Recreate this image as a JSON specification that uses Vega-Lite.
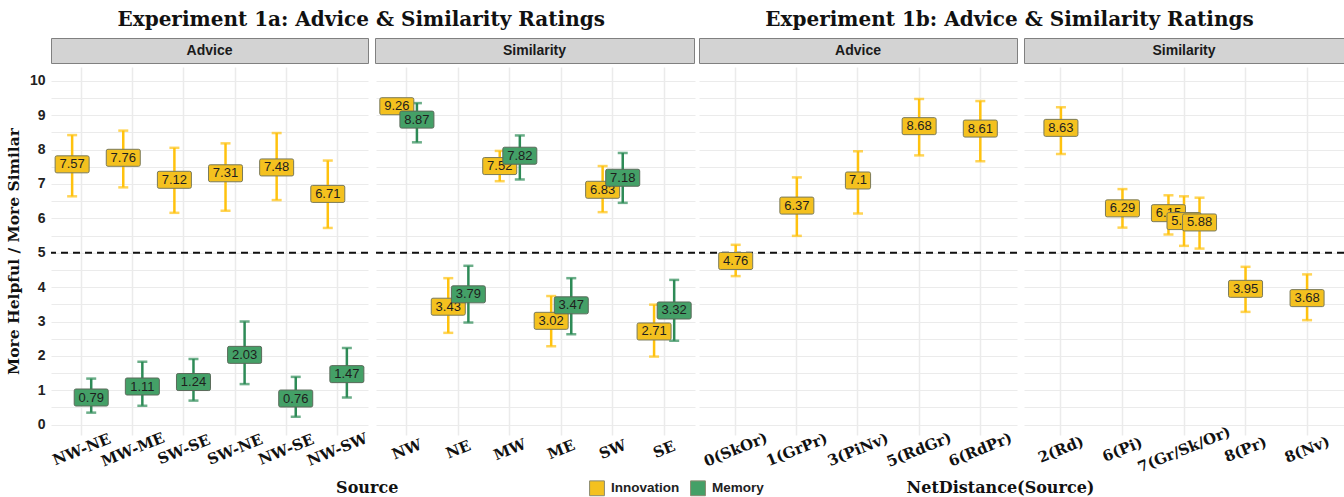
{
  "$schema": "https://vega.github.io/schema/vega-lite/v6.json",
  "padding": {"left": 6, "top": 9, "right": 0, "bottom": 0},
  "background": "white",
  "datasets": {
    "p1": [
      {"source": "NW-NE", "group": "Innovation", "mean": 7.57, "lo": 6.64, "hi": 8.42},
      {"source": "MW-ME", "group": "Innovation", "mean": 7.76, "lo": 6.90, "hi": 8.55},
      {"source": "SW-SE", "group": "Innovation", "mean": 7.12, "lo": 6.16, "hi": 8.05},
      {"source": "SW-NE", "group": "Innovation", "mean": 7.31, "lo": 6.22, "hi": 8.18},
      {"source": "NW-SE", "group": "Innovation", "mean": 7.48, "lo": 6.53, "hi": 8.48},
      {"source": "NW-SW", "group": "Innovation", "mean": 6.71, "lo": 5.72, "hi": 7.68},
      {"source": "NW-NE", "group": "Memory", "mean": 0.79, "lo": 0.35, "hi": 1.34},
      {"source": "MW-ME", "group": "Memory", "mean": 1.11, "lo": 0.55, "hi": 1.83},
      {"source": "SW-SE", "group": "Memory", "mean": 1.24, "lo": 0.70, "hi": 1.91},
      {"source": "SW-NE", "group": "Memory", "mean": 2.03, "lo": 1.18, "hi": 3.00},
      {"source": "NW-SE", "group": "Memory", "mean": 0.76, "lo": 0.23, "hi": 1.39},
      {"source": "NW-SW", "group": "Memory", "mean": 1.47, "lo": 0.79, "hi": 2.23}
    ],
    "p2": [
      {"source": "NW", "group": "Innovation", "mean": 9.26, "lo": 9.07, "hi": 9.47},
      {"source": "NE", "group": "Innovation", "mean": 3.43, "lo": 2.67, "hi": 4.26},
      {"source": "MW", "group": "Innovation", "mean": 7.52, "lo": 7.08, "hi": 7.96},
      {"source": "ME", "group": "Innovation", "mean": 3.02, "lo": 2.28, "hi": 3.74},
      {"source": "SW", "group": "Innovation", "mean": 6.83, "lo": 6.18, "hi": 7.52},
      {"source": "SE", "group": "Innovation", "mean": 2.71, "lo": 1.98, "hi": 3.49},
      {"source": "NW", "group": "Memory", "mean": 8.87, "lo": 8.21, "hi": 9.35},
      {"source": "NE", "group": "Memory", "mean": 3.79, "lo": 2.97, "hi": 4.62},
      {"source": "MW", "group": "Memory", "mean": 7.82, "lo": 7.13, "hi": 8.41},
      {"source": "ME", "group": "Memory", "mean": 3.47, "lo": 2.63, "hi": 4.26},
      {"source": "SW", "group": "Memory", "mean": 7.18, "lo": 6.45, "hi": 7.90},
      {"source": "SE", "group": "Memory", "mean": 3.32, "lo": 2.44, "hi": 4.21}
    ],
    "p3": [
      {"source": "0(SkOr)", "group": "Innovation", "mean": 4.76, "lo": 4.32, "hi": 5.23},
      {"source": "1(GrPr)", "group": "Innovation", "mean": 6.37, "lo": 5.49, "hi": 7.19},
      {"source": "3(PiNv)", "group": "Innovation", "mean": 7.1, "lo": 6.14, "hi": 7.95},
      {"source": "5(RdGr)", "group": "Innovation", "mean": 8.68, "lo": 7.83, "hi": 9.47},
      {"source": "6(RdPr)", "group": "Innovation", "mean": 8.61, "lo": 7.66, "hi": 9.41}
    ],
    "p4": [
      {"source": "2(Rd)", "group": "Innovation", "slot": "b", "mean": 8.63, "lo": 7.87, "hi": 9.23},
      {"source": "6(Pi)", "group": "Innovation", "slot": "b", "mean": 6.29, "lo": 5.73, "hi": 6.85},
      {"source": "7(Gr/Sk/Or)", "group": "Innovation", "slot": "a", "mean": 6.15, "lo": 5.53, "hi": 6.67},
      {"source": "7(Gr/Sk/Or)", "group": "Innovation", "slot": "b", "mean": 5.92, "lo": 5.20, "hi": 6.64},
      {"source": "7(Gr/Sk/Or)", "group": "Innovation", "slot": "c", "mean": 5.88, "lo": 5.12, "hi": 6.60},
      {"source": "8(Pr)", "group": "Innovation", "slot": "b", "mean": 3.95, "lo": 3.28, "hi": 4.59},
      {"source": "8(Nv)", "group": "Innovation", "slot": "b", "mean": 3.68, "lo": 3.04, "hi": 4.37}
    ]
  },
  "hconcat": [
    {
      "title": {"text": "Experiment 1a: Advice & Similarity Ratings", "anchor": "middle", "offset": 8, "dx": 10},
      "spacing": 3,
      "resolve": {"scale": {"x": "independent", "xOffset": "independent", "y": "independent"}},
      "vconcat": [
        {
          "spacing": 5,
          "hconcat": [
            {"width": 317, "height": 25, "view": {"fill": "#d3d3d3", "stroke": "#808080"}, "data": {"values": [{"label": "Advice"}]}, "mark": {"type": "text", "font": "Liberation Sans", "fontWeight": "bold", "fontSize": 14, "color": "#1a1a1a"}, "encoding": {"text": {"field": "label"}}},
            {"width": 319, "height": 25, "view": {"fill": "#d3d3d3", "stroke": "#808080"}, "data": {"values": [{"label": "Similarity"}]}, "mark": {"type": "text", "font": "Liberation Sans", "fontWeight": "bold", "fontSize": 14, "color": "#1a1a1a"}, "encoding": {"text": {"field": "label"}}}
          ]
        },
        {
          "title": {"text": "Source", "orient": "bottom", "anchor": "middle", "offset": 11, "fontSize": 16, "dx": 16},
          "spacing": 5,
          "resolve": {"scale": {"x": "independent", "xOffset": "independent", "y": "independent"}},
          "hconcat": [
            {
              "width": 317, "height": 368,
              "data": {"name": "p1"},
              "layer": [
                {"data": {"values": [{}]}, "mark": {"type": "rule", "strokeDash": [7, 5], "strokeWidth": 2, "color": "#111"},
                 "encoding": {"y": {"datum": 5, "type": "quantitative", "scale": {"domain": [-0.3, 10.4], "nice": false, "zero": false}, "axis": {"title": "More Helpful / More Similar", "grid": true, "values": [0,0.5,1,1.5,2,2.5,3,3.5,4,4.5,5,5.5,6,6.5,7,7.5,8,8.5,9,9.5,10], "labelExpr": "datum.value % 1 === 0 ? format(datum.value, 'd') : ''", "labelFont": "Liberation Sans", "labelFontWeight": "bold", "labelFontSize": 14, "labelPadding": 6, "labelColor": "#222", "titleFont": "DejaVu Serif", "titleFontWeight": "bold", "titleFontSize": 15.5, "titlePadding": 8, "titleColor": "#111"}}}},
                {"mark": {"type": "rule", "strokeWidth": 2.5},
                 "encoding": {
                   "x": {"field": "source", "type": "nominal", "sort": null, "scale": {"paddingInner": 0, "paddingOuter": 0.1}, "axis": {"title": null, "grid": true}},
                   "xOffset": {"field": "group", "type": "nominal", "scale": {"domain": ["Innovation", "Memory"], "paddingOuter": 0.34}},
                   "y": {"field": "lo", "type": "quantitative", "scale": {"domain": [-0.3, 10.4], "nice": false, "zero": false}, "axis": {"title": "More Helpful / More Similar", "grid": true, "values": [0,0.5,1,1.5,2,2.5,3,3.5,4,4.5,5,5.5,6,6.5,7,7.5,8,8.5,9,9.5,10], "labelExpr": "datum.value % 1 === 0 ? format(datum.value, 'd') : ''", "labelFont": "Liberation Sans", "labelFontWeight": "bold", "labelFontSize": 14, "labelPadding": 6, "labelColor": "#222", "titleFont": "DejaVu Serif", "titleFontWeight": "bold", "titleFontSize": 15.5, "titlePadding": 8, "titleColor": "#111"}},
                   "y2": {"field": "hi"},
                   "color": {"condition": {"test": "datum.group === 'Innovation'", "value": "#FFC20E"}, "value": "#2E8B57"}
                 }},
                {"mark": {"type": "tick", "thickness": 2.5, "size": 10},
                 "encoding": {
                   "x": {"field": "source", "type": "nominal", "sort": null, "scale": {"paddingInner": 0, "paddingOuter": 0.1}, "axis": {"title": null, "grid": true}},
                   "xOffset": {"field": "group", "type": "nominal", "scale": {"domain": ["Innovation", "Memory"], "paddingOuter": 0.34}},
                   "y": {"field": "lo", "type": "quantitative", "scale": {"domain": [-0.3, 10.4], "nice": false, "zero": false}, "axis": {"title": "More Helpful / More Similar", "grid": true, "values": [0,0.5,1,1.5,2,2.5,3,3.5,4,4.5,5,5.5,6,6.5,7,7.5,8,8.5,9,9.5,10], "labelExpr": "datum.value % 1 === 0 ? format(datum.value, 'd') : ''", "labelFont": "Liberation Sans", "labelFontWeight": "bold", "labelFontSize": 14, "labelPadding": 6, "labelColor": "#222", "titleFont": "DejaVu Serif", "titleFontWeight": "bold", "titleFontSize": 15.5, "titlePadding": 8, "titleColor": "#111"}},
                   "color": {"condition": {"test": "datum.group === 'Innovation'", "value": "#FFC20E"}, "value": "#2E8B57"}
                 }},
                {"mark": {"type": "tick", "thickness": 2.5, "size": 10},
                 "encoding": {
                   "x": {"field": "source", "type": "nominal", "sort": null, "scale": {"paddingInner": 0, "paddingOuter": 0.1}, "axis": {"title": null, "grid": true}},
                   "xOffset": {"field": "group", "type": "nominal", "scale": {"domain": ["Innovation", "Memory"], "paddingOuter": 0.34}},
                   "y": {"field": "hi", "type": "quantitative", "scale": {"domain": [-0.3, 10.4], "nice": false, "zero": false}, "axis": {"title": "More Helpful / More Similar", "grid": true, "values": [0,0.5,1,1.5,2,2.5,3,3.5,4,4.5,5,5.5,6,6.5,7,7.5,8,8.5,9,9.5,10], "labelExpr": "datum.value % 1 === 0 ? format(datum.value, 'd') : ''", "labelFont": "Liberation Sans", "labelFontWeight": "bold", "labelFontSize": 14, "labelPadding": 6, "labelColor": "#222", "titleFont": "DejaVu Serif", "titleFontWeight": "bold", "titleFontSize": 15.5, "titlePadding": 8, "titleColor": "#111"}},
                   "color": {"condition": {"test": "datum.group === 'Innovation'", "value": "#FFC20E"}, "value": "#2E8B57"}
                 }},
                {"transform": [{"filter": "datum.group === 'Innovation'"}],
                 "mark": {"type": "point", "filled": true, "opacity": 1, "shape": "M-0.9,-0.5L0.9,-0.5Q1,-0.5 1,-0.4L1,0.4Q1,0.5 0.9,0.5L-0.9,0.5Q-1,0.5 -1,0.4L-1,-0.4Q-1,-0.5 -0.9,-0.5Z", "size": 1156, "stroke": "#7a7a5a", "strokeWidth": 1},
                 "encoding": {
                   "x": {"field": "source", "type": "nominal", "sort": null, "scale": {"paddingInner": 0, "paddingOuter": 0.1}, "axis": {"title": null, "grid": true}},
                   "xOffset": {"field": "group", "type": "nominal", "scale": {"domain": ["Innovation", "Memory"], "paddingOuter": 0.34}},
                   "y": {"field": "mean", "type": "quantitative", "scale": {"domain": [-0.3, 10.4], "nice": false, "zero": false}, "axis": {"title": "More Helpful / More Similar", "grid": true, "values": [0,0.5,1,1.5,2,2.5,3,3.5,4,4.5,5,5.5,6,6.5,7,7.5,8,8.5,9,9.5,10], "labelExpr": "datum.value % 1 === 0 ? format(datum.value, 'd') : ''", "labelFont": "Liberation Sans", "labelFontWeight": "bold", "labelFontSize": 14, "labelPadding": 6, "labelColor": "#222", "titleFont": "DejaVu Serif", "titleFontWeight": "bold", "titleFontSize": 15.5, "titlePadding": 8, "titleColor": "#111"}},
                   "fill": {"field": "group", "type": "nominal", "scale": {"domain": ["Innovation", "Memory"], "range": ["#F4C11F", "#44A067"]}, "title": null}
                 }},
                {"transform": [{"filter": "datum.group === 'Innovation'"}],
                 "mark": {"type": "text", "font": "Liberation Sans", "fontSize": 13, "color": "#1e1e1e"},
                 "encoding": {
                   "x": {"field": "source", "type": "nominal", "sort": null, "scale": {"paddingInner": 0, "paddingOuter": 0.1}, "axis": {"title": null, "grid": true}},
                   "xOffset": {"field": "group", "type": "nominal", "scale": {"domain": ["Innovation", "Memory"], "paddingOuter": 0.34}},
                   "y": {"field": "mean", "type": "quantitative", "scale": {"domain": [-0.3, 10.4], "nice": false, "zero": false}, "axis": {"title": "More Helpful / More Similar", "grid": true, "values": [0,0.5,1,1.5,2,2.5,3,3.5,4,4.5,5,5.5,6,6.5,7,7.5,8,8.5,9,9.5,10], "labelExpr": "datum.value % 1 === 0 ? format(datum.value, 'd') : ''", "labelFont": "Liberation Sans", "labelFontWeight": "bold", "labelFontSize": 14, "labelPadding": 6, "labelColor": "#222", "titleFont": "DejaVu Serif", "titleFontWeight": "bold", "titleFontSize": 15.5, "titlePadding": 8, "titleColor": "#111"}},
                   "text": {"field": "mean", "type": "nominal"}
                 }},
                {"transform": [{"filter": "datum.group === 'Memory'"}],
                 "mark": {"type": "point", "filled": true, "opacity": 1, "shape": "M-0.9,-0.5L0.9,-0.5Q1,-0.5 1,-0.4L1,0.4Q1,0.5 0.9,0.5L-0.9,0.5Q-1,0.5 -1,0.4L-1,-0.4Q-1,-0.5 -0.9,-0.5Z", "size": 1156, "stroke": "#5a6a5a", "strokeWidth": 1},
                 "encoding": {
                   "x": {"field": "source", "type": "nominal", "sort": null, "scale": {"paddingInner": 0, "paddingOuter": 0.1}, "axis": {"title": null, "grid": true}},
                   "xOffset": {"field": "group", "type": "nominal", "scale": {"domain": ["Innovation", "Memory"], "paddingOuter": 0.34}},
                   "y": {"field": "mean", "type": "quantitative", "scale": {"domain": [-0.3, 10.4], "nice": false, "zero": false}, "axis": {"title": "More Helpful / More Similar", "grid": true, "values": [0,0.5,1,1.5,2,2.5,3,3.5,4,4.5,5,5.5,6,6.5,7,7.5,8,8.5,9,9.5,10], "labelExpr": "datum.value % 1 === 0 ? format(datum.value, 'd') : ''", "labelFont": "Liberation Sans", "labelFontWeight": "bold", "labelFontSize": 14, "labelPadding": 6, "labelColor": "#222", "titleFont": "DejaVu Serif", "titleFontWeight": "bold", "titleFontSize": 15.5, "titlePadding": 8, "titleColor": "#111"}},
                   "fill": {"field": "group", "type": "nominal", "scale": {"domain": ["Innovation", "Memory"], "range": ["#F4C11F", "#44A067"]}, "title": null}
                 }},
                {"transform": [{"filter": "datum.group === 'Memory'"}],
                 "mark": {"type": "text", "font": "Liberation Sans", "fontSize": 13, "color": "#1e1e1e"},
                 "encoding": {
                   "x": {"field": "source", "type": "nominal", "sort": null, "scale": {"paddingInner": 0, "paddingOuter": 0.1}, "axis": {"title": null, "grid": true}},
                   "xOffset": {"field": "group", "type": "nominal", "scale": {"domain": ["Innovation", "Memory"], "paddingOuter": 0.34}},
                   "y": {"field": "mean", "type": "quantitative", "scale": {"domain": [-0.3, 10.4], "nice": false, "zero": false}, "axis": {"title": "More Helpful / More Similar", "grid": true, "values": [0,0.5,1,1.5,2,2.5,3,3.5,4,4.5,5,5.5,6,6.5,7,7.5,8,8.5,9,9.5,10], "labelExpr": "datum.value % 1 === 0 ? format(datum.value, 'd') : ''", "labelFont": "Liberation Sans", "labelFontWeight": "bold", "labelFontSize": 14, "labelPadding": 6, "labelColor": "#222", "titleFont": "DejaVu Serif", "titleFontWeight": "bold", "titleFontSize": 15.5, "titlePadding": 8, "titleColor": "#111"}},
                   "text": {"field": "mean", "type": "nominal"}
                 }}
              ]
            },
            {
              "width": 319, "height": 368,
              "data": {"name": "p2"},
              "layer": [
                {"data": {"values": [{}]}, "mark": {"type": "rule", "strokeDash": [7, 5], "strokeWidth": 2, "color": "#111"},
                 "encoding": {"y": {"datum": 5, "type": "quantitative", "scale": {"domain": [-0.3, 10.4], "nice": false, "zero": false}, "axis": {"title": null, "labels": false, "grid": true, "values": [0,0.5,1,1.5,2,2.5,3,3.5,4,4.5,5,5.5,6,6.5,7,7.5,8,8.5,9,9.5,10]}}}},
                {"mark": {"type": "rule", "strokeWidth": 2.5},
                 "encoding": {
                   "x": {"field": "source", "type": "nominal", "sort": null, "scale": {"paddingInner": 0, "paddingOuter": 0.1}, "axis": {"title": null, "grid": true}},
                   "xOffset": {"field": "group", "type": "nominal", "scale": {"domain": ["Innovation", "Memory"], "paddingOuter": 0.28}},
                   "y": {"field": "lo", "type": "quantitative", "scale": {"domain": [-0.3, 10.4], "nice": false, "zero": false}, "axis": {"title": null, "labels": false, "grid": true, "values": [0,0.5,1,1.5,2,2.5,3,3.5,4,4.5,5,5.5,6,6.5,7,7.5,8,8.5,9,9.5,10]}},
                   "y2": {"field": "hi"},
                   "color": {"condition": {"test": "datum.group === 'Innovation'", "value": "#FFC20E"}, "value": "#2E8B57"}
                 }},
                {"mark": {"type": "tick", "thickness": 2.5, "size": 10},
                 "encoding": {
                   "x": {"field": "source", "type": "nominal", "sort": null, "scale": {"paddingInner": 0, "paddingOuter": 0.1}, "axis": {"title": null, "grid": true}},
                   "xOffset": {"field": "group", "type": "nominal", "scale": {"domain": ["Innovation", "Memory"], "paddingOuter": 0.28}},
                   "y": {"field": "lo", "type": "quantitative", "scale": {"domain": [-0.3, 10.4], "nice": false, "zero": false}, "axis": {"title": null, "labels": false, "grid": true, "values": [0,0.5,1,1.5,2,2.5,3,3.5,4,4.5,5,5.5,6,6.5,7,7.5,8,8.5,9,9.5,10]}},
                   "color": {"condition": {"test": "datum.group === 'Innovation'", "value": "#FFC20E"}, "value": "#2E8B57"}
                 }},
                {"mark": {"type": "tick", "thickness": 2.5, "size": 10},
                 "encoding": {
                   "x": {"field": "source", "type": "nominal", "sort": null, "scale": {"paddingInner": 0, "paddingOuter": 0.1}, "axis": {"title": null, "grid": true}},
                   "xOffset": {"field": "group", "type": "nominal", "scale": {"domain": ["Innovation", "Memory"], "paddingOuter": 0.28}},
                   "y": {"field": "hi", "type": "quantitative", "scale": {"domain": [-0.3, 10.4], "nice": false, "zero": false}, "axis": {"title": null, "labels": false, "grid": true, "values": [0,0.5,1,1.5,2,2.5,3,3.5,4,4.5,5,5.5,6,6.5,7,7.5,8,8.5,9,9.5,10]}},
                   "color": {"condition": {"test": "datum.group === 'Innovation'", "value": "#FFC20E"}, "value": "#2E8B57"}
                 }},
                {"transform": [{"filter": "datum.group === 'Innovation'"}],
                 "mark": {"type": "point", "filled": true, "opacity": 1, "shape": "M-0.9,-0.5L0.9,-0.5Q1,-0.5 1,-0.4L1,0.4Q1,0.5 0.9,0.5L-0.9,0.5Q-1,0.5 -1,0.4L-1,-0.4Q-1,-0.5 -0.9,-0.5Z", "size": 1156, "stroke": "#7a7a5a", "strokeWidth": 1},
                 "encoding": {
                   "x": {"field": "source", "type": "nominal", "sort": null, "scale": {"paddingInner": 0, "paddingOuter": 0.1}, "axis": {"title": null, "grid": true}},
                   "xOffset": {"field": "group", "type": "nominal", "scale": {"domain": ["Innovation", "Memory"], "paddingOuter": 0.28}},
                   "y": {"field": "mean", "type": "quantitative", "scale": {"domain": [-0.3, 10.4], "nice": false, "zero": false}, "axis": {"title": null, "labels": false, "grid": true, "values": [0,0.5,1,1.5,2,2.5,3,3.5,4,4.5,5,5.5,6,6.5,7,7.5,8,8.5,9,9.5,10]}},
                   "fill": {"field": "group", "type": "nominal", "scale": {"domain": ["Innovation", "Memory"], "range": ["#F4C11F", "#44A067"]}, "title": null}
                 }},
                {"transform": [{"filter": "datum.group === 'Innovation'"}],
                 "mark": {"type": "text", "font": "Liberation Sans", "fontSize": 13, "color": "#1e1e1e"},
                 "encoding": {
                   "x": {"field": "source", "type": "nominal", "sort": null, "scale": {"paddingInner": 0, "paddingOuter": 0.1}, "axis": {"title": null, "grid": true}},
                   "xOffset": {"field": "group", "type": "nominal", "scale": {"domain": ["Innovation", "Memory"], "paddingOuter": 0.28}},
                   "y": {"field": "mean", "type": "quantitative", "scale": {"domain": [-0.3, 10.4], "nice": false, "zero": false}, "axis": {"title": null, "labels": false, "grid": true, "values": [0,0.5,1,1.5,2,2.5,3,3.5,4,4.5,5,5.5,6,6.5,7,7.5,8,8.5,9,9.5,10]}},
                   "text": {"field": "mean", "type": "nominal"}
                 }},
                {"transform": [{"filter": "datum.group === 'Memory'"}],
                 "mark": {"type": "point", "filled": true, "opacity": 1, "shape": "M-0.9,-0.5L0.9,-0.5Q1,-0.5 1,-0.4L1,0.4Q1,0.5 0.9,0.5L-0.9,0.5Q-1,0.5 -1,0.4L-1,-0.4Q-1,-0.5 -0.9,-0.5Z", "size": 1156, "stroke": "#5a6a5a", "strokeWidth": 1},
                 "encoding": {
                   "x": {"field": "source", "type": "nominal", "sort": null, "scale": {"paddingInner": 0, "paddingOuter": 0.1}, "axis": {"title": null, "grid": true}},
                   "xOffset": {"field": "group", "type": "nominal", "scale": {"domain": ["Innovation", "Memory"], "paddingOuter": 0.28}},
                   "y": {"field": "mean", "type": "quantitative", "scale": {"domain": [-0.3, 10.4], "nice": false, "zero": false}, "axis": {"title": null, "labels": false, "grid": true, "values": [0,0.5,1,1.5,2,2.5,3,3.5,4,4.5,5,5.5,6,6.5,7,7.5,8,8.5,9,9.5,10]}},
                   "fill": {"field": "group", "type": "nominal", "scale": {"domain": ["Innovation", "Memory"], "range": ["#F4C11F", "#44A067"]}, "title": null}
                 }},
                {"transform": [{"filter": "datum.group === 'Memory'"}],
                 "mark": {"type": "text", "font": "Liberation Sans", "fontSize": 13, "color": "#1e1e1e"},
                 "encoding": {
                   "x": {"field": "source", "type": "nominal", "sort": null, "scale": {"paddingInner": 0, "paddingOuter": 0.1}, "axis": {"title": null, "grid": true}},
                   "xOffset": {"field": "group", "type": "nominal", "scale": {"domain": ["Innovation", "Memory"], "paddingOuter": 0.28}},
                   "y": {"field": "mean", "type": "quantitative", "scale": {"domain": [-0.3, 10.4], "nice": false, "zero": false}, "axis": {"title": null, "labels": false, "grid": true, "values": [0,0.5,1,1.5,2,2.5,3,3.5,4,4.5,5,5.5,6,6.5,7,7.5,8,8.5,9,9.5,10]}},
                   "text": {"field": "mean", "type": "nominal"}
                 }}
              ]
            }
          ]
        }
      ]
    },
    {
      "title": {"text": "Experiment 1b: Advice & Similarity Ratings", "anchor": "middle", "offset": 8, "dx": -12},
      "spacing": 3,
      "resolve": {"scale": {"x": "independent", "xOffset": "independent", "y": "independent"}},
      "vconcat": [
        {
          "spacing": 5,
          "hconcat": [
            {"width": 318, "height": 25, "view": {"fill": "#d3d3d3", "stroke": "#808080"}, "data": {"values": [{"label": "Advice"}]}, "mark": {"type": "text", "font": "Liberation Sans", "fontWeight": "bold", "fontSize": 14, "color": "#1a1a1a"}, "encoding": {"text": {"field": "label"}}},
            {"width": 320, "height": 25, "view": {"fill": "#d3d3d3", "stroke": "#808080"}, "data": {"values": [{"label": "Similarity"}]}, "mark": {"type": "text", "font": "Liberation Sans", "fontWeight": "bold", "fontSize": 14, "color": "#1a1a1a"}, "encoding": {"text": {"field": "label"}}}
          ]
        },
        {
          "title": {"text": "NetDistance(Source)", "orient": "bottom", "anchor": "middle", "offset": 5, "fontSize": 16, "dx": -21},
          "spacing": 5,
          "resolve": {"scale": {"x": "independent", "xOffset": "independent", "y": "independent"}},
          "hconcat": [
            {
              "width": 318, "height": 368,
              "data": {"name": "p3"},
              "layer": [
                {"data": {"values": [{}]}, "mark": {"type": "rule", "strokeDash": [7, 5], "strokeWidth": 2, "color": "#111"},
                 "encoding": {"y": {"datum": 5, "type": "quantitative", "scale": {"domain": [-0.3, 10.4], "nice": false, "zero": false}, "axis": {"title": null, "labels": false, "grid": true, "values": [0,0.5,1,1.5,2,2.5,3,3.5,4,4.5,5,5.5,6,6.5,7,7.5,8,8.5,9,9.5,10]}}}},
                {"mark": {"type": "rule", "strokeWidth": 2.5, "color": "#FFC20E"},
                 "encoding": {
                   "x": {"field": "source", "type": "nominal", "sort": null, "scale": {"paddingInner": 0, "paddingOuter": 0.1}, "axis": {"title": null, "grid": true}},
                   "y": {"field": "lo", "type": "quantitative", "scale": {"domain": [-0.3, 10.4], "nice": false, "zero": false}, "axis": {"title": null, "labels": false, "grid": true, "values": [0,0.5,1,1.5,2,2.5,3,3.5,4,4.5,5,5.5,6,6.5,7,7.5,8,8.5,9,9.5,10]}},
                   "y2": {"field": "hi"}
                 }},
                {"mark": {"type": "tick", "thickness": 2.5, "size": 10, "color": "#FFC20E"},
                 "encoding": {
                   "x": {"field": "source", "type": "nominal", "sort": null, "scale": {"paddingInner": 0, "paddingOuter": 0.1}, "axis": {"title": null, "grid": true}},
                   "y": {"field": "lo", "type": "quantitative", "scale": {"domain": [-0.3, 10.4], "nice": false, "zero": false}, "axis": {"title": null, "labels": false, "grid": true, "values": [0,0.5,1,1.5,2,2.5,3,3.5,4,4.5,5,5.5,6,6.5,7,7.5,8,8.5,9,9.5,10]}}
                 }},
                {"mark": {"type": "tick", "thickness": 2.5, "size": 10, "color": "#FFC20E"},
                 "encoding": {
                   "x": {"field": "source", "type": "nominal", "sort": null, "scale": {"paddingInner": 0, "paddingOuter": 0.1}, "axis": {"title": null, "grid": true}},
                   "y": {"field": "hi", "type": "quantitative", "scale": {"domain": [-0.3, 10.4], "nice": false, "zero": false}, "axis": {"title": null, "labels": false, "grid": true, "values": [0,0.5,1,1.5,2,2.5,3,3.5,4,4.5,5,5.5,6,6.5,7,7.5,8,8.5,9,9.5,10]}}
                 }},
                {"mark": {"type": "point", "filled": true, "opacity": 1, "size": 1156, "stroke": "#7a7a5a", "strokeWidth": 1},
                 "encoding": {
                   "x": {"field": "source", "type": "nominal", "sort": null, "scale": {"paddingInner": 0, "paddingOuter": 0.1}, "axis": {"title": null, "grid": true}},
                   "y": {"field": "mean", "type": "quantitative", "scale": {"domain": [-0.3, 10.4], "nice": false, "zero": false}, "axis": {"title": null, "labels": false, "grid": true, "values": [0,0.5,1,1.5,2,2.5,3,3.5,4,4.5,5,5.5,6,6.5,7,7.5,8,8.5,9,9.5,10]}},
                   "shape": {"condition": {"test": "length(toString(datum.mean)) < 4", "value": "M-0.64,-0.5L0.64,-0.5Q0.74,-0.5 0.74,-0.4L0.74,0.4Q0.74,0.5 0.64,0.5L-0.64,0.5Q-0.74,0.5 -0.74,0.4L-0.74,-0.4Q-0.74,-0.5 -0.64,-0.5Z"}, "value": "M-0.9,-0.5L0.9,-0.5Q1,-0.5 1,-0.4L1,0.4Q1,0.5 0.9,0.5L-0.9,0.5Q-1,0.5 -1,0.4L-1,-0.4Q-1,-0.5 -0.9,-0.5Z"},
                   "fill": {"field": "group", "type": "nominal", "scale": {"domain": ["Innovation", "Memory"], "range": ["#F4C11F", "#44A067"]}, "title": null}
                 }},
                {"mark": {"type": "text", "font": "Liberation Sans", "fontSize": 13, "color": "#1e1e1e"},
                 "encoding": {
                   "x": {"field": "source", "type": "nominal", "sort": null, "scale": {"paddingInner": 0, "paddingOuter": 0.1}, "axis": {"title": null, "grid": true}},
                   "y": {"field": "mean", "type": "quantitative", "scale": {"domain": [-0.3, 10.4], "nice": false, "zero": false}, "axis": {"title": null, "labels": false, "grid": true, "values": [0,0.5,1,1.5,2,2.5,3,3.5,4,4.5,5,5.5,6,6.5,7,7.5,8,8.5,9,9.5,10]}},
                   "text": {"field": "mean", "type": "nominal"}
                 }}
              ]
            },
            {
              "width": 320, "height": 368,
              "data": {"name": "p4"},
              "layer": [
                {"data": {"values": [{}]}, "mark": {"type": "rule", "strokeDash": [7, 5], "strokeWidth": 2, "color": "#111"},
                 "encoding": {"y": {"datum": 5, "type": "quantitative", "scale": {"domain": [-0.3, 10.4], "nice": false, "zero": false}, "axis": {"title": null, "labels": false, "grid": true, "values": [0,0.5,1,1.5,2,2.5,3,3.5,4,4.5,5,5.5,6,6.5,7,7.5,8,8.5,9,9.5,10]}}}},
                {"mark": {"type": "rule", "strokeWidth": 2.5, "color": "#FFC20E"},
                 "encoding": {
                   "x": {"field": "source", "type": "nominal", "sort": null, "scale": {"paddingInner": 0, "paddingOuter": 0.1}, "axis": {"title": null, "grid": true}},
                   "xOffset": {"field": "slot", "type": "nominal", "scale": {"domain": ["a", "b", "c"], "paddingOuter": 0.48}},
                   "y": {"field": "lo", "type": "quantitative", "scale": {"domain": [-0.3, 10.4], "nice": false, "zero": false}, "axis": {"title": null, "labels": false, "grid": true, "values": [0,0.5,1,1.5,2,2.5,3,3.5,4,4.5,5,5.5,6,6.5,7,7.5,8,8.5,9,9.5,10]}},
                   "y2": {"field": "hi"}
                 }},
                {"mark": {"type": "tick", "thickness": 2.5, "size": 10, "color": "#FFC20E"},
                 "encoding": {
                   "x": {"field": "source", "type": "nominal", "sort": null, "scale": {"paddingInner": 0, "paddingOuter": 0.1}, "axis": {"title": null, "grid": true}},
                   "xOffset": {"field": "slot", "type": "nominal", "scale": {"domain": ["a", "b", "c"], "paddingOuter": 0.48}},
                   "y": {"field": "lo", "type": "quantitative", "scale": {"domain": [-0.3, 10.4], "nice": false, "zero": false}, "axis": {"title": null, "labels": false, "grid": true, "values": [0,0.5,1,1.5,2,2.5,3,3.5,4,4.5,5,5.5,6,6.5,7,7.5,8,8.5,9,9.5,10]}}
                 }},
                {"mark": {"type": "tick", "thickness": 2.5, "size": 10, "color": "#FFC20E"},
                 "encoding": {
                   "x": {"field": "source", "type": "nominal", "sort": null, "scale": {"paddingInner": 0, "paddingOuter": 0.1}, "axis": {"title": null, "grid": true}},
                   "xOffset": {"field": "slot", "type": "nominal", "scale": {"domain": ["a", "b", "c"], "paddingOuter": 0.48}},
                   "y": {"field": "hi", "type": "quantitative", "scale": {"domain": [-0.3, 10.4], "nice": false, "zero": false}, "axis": {"title": null, "labels": false, "grid": true, "values": [0,0.5,1,1.5,2,2.5,3,3.5,4,4.5,5,5.5,6,6.5,7,7.5,8,8.5,9,9.5,10]}}
                 }},
                {"transform": [{"filter": "datum.slot === 'a' || (datum.slot === 'b' && datum.source !== '7(Gr/Sk/Or)')"}],
                 "mark": {"type": "point", "filled": true, "opacity": 1, "shape": "M-0.9,-0.5L0.9,-0.5Q1,-0.5 1,-0.4L1,0.4Q1,0.5 0.9,0.5L-0.9,0.5Q-1,0.5 -1,0.4L-1,-0.4Q-1,-0.5 -0.9,-0.5Z", "size": 1156, "stroke": "#7a7a5a", "strokeWidth": 1},
                 "encoding": {
                   "x": {"field": "source", "type": "nominal", "sort": null, "scale": {"paddingInner": 0, "paddingOuter": 0.1}, "axis": {"title": null, "grid": true}},
                   "xOffset": {"field": "slot", "type": "nominal", "scale": {"domain": ["a", "b", "c"], "paddingOuter": 0.48}},
                   "y": {"field": "mean", "type": "quantitative", "scale": {"domain": [-0.3, 10.4], "nice": false, "zero": false}, "axis": {"title": null, "labels": false, "grid": true, "values": [0,0.5,1,1.5,2,2.5,3,3.5,4,4.5,5,5.5,6,6.5,7,7.5,8,8.5,9,9.5,10]}},
                   "fill": {"field": "group", "type": "nominal", "scale": {"domain": ["Innovation", "Memory"], "range": ["#F4C11F", "#44A067"]}, "title": null}
                 }},
                {"transform": [{"filter": "datum.slot === 'a' || (datum.slot === 'b' && datum.source !== '7(Gr/Sk/Or)')"}],
                 "mark": {"type": "text", "font": "Liberation Sans", "fontSize": 13, "color": "#1e1e1e"},
                 "encoding": {
                   "x": {"field": "source", "type": "nominal", "sort": null, "scale": {"paddingInner": 0, "paddingOuter": 0.1}, "axis": {"title": null, "grid": true}},
                   "xOffset": {"field": "slot", "type": "nominal", "scale": {"domain": ["a", "b", "c"], "paddingOuter": 0.48}},
                   "y": {"field": "mean", "type": "quantitative", "scale": {"domain": [-0.3, 10.4], "nice": false, "zero": false}, "axis": {"title": null, "labels": false, "grid": true, "values": [0,0.5,1,1.5,2,2.5,3,3.5,4,4.5,5,5.5,6,6.5,7,7.5,8,8.5,9,9.5,10]}},
                   "text": {"field": "mean", "type": "nominal"}
                 }},
                {"transform": [{"filter": "datum.slot === 'b' && datum.source === '7(Gr/Sk/Or)'"}],
                 "mark": {"type": "point", "filled": true, "opacity": 1, "shape": "M-0.9,-0.5L0.9,-0.5Q1,-0.5 1,-0.4L1,0.4Q1,0.5 0.9,0.5L-0.9,0.5Q-1,0.5 -1,0.4L-1,-0.4Q-1,-0.5 -0.9,-0.5Z", "size": 1156, "stroke": "#7a7a5a", "strokeWidth": 1},
                 "encoding": {
                   "x": {"field": "source", "type": "nominal", "sort": null, "scale": {"paddingInner": 0, "paddingOuter": 0.1}, "axis": {"title": null, "grid": true}},
                   "xOffset": {"field": "slot", "type": "nominal", "scale": {"domain": ["a", "b", "c"], "paddingOuter": 0.48}},
                   "y": {"field": "mean", "type": "quantitative", "scale": {"domain": [-0.3, 10.4], "nice": false, "zero": false}, "axis": {"title": null, "labels": false, "grid": true, "values": [0,0.5,1,1.5,2,2.5,3,3.5,4,4.5,5,5.5,6,6.5,7,7.5,8,8.5,9,9.5,10]}},
                   "fill": {"field": "group", "type": "nominal", "scale": {"domain": ["Innovation", "Memory"], "range": ["#F4C11F", "#44A067"]}, "title": null}
                 }},
                {"transform": [{"filter": "datum.slot === 'b' && datum.source === '7(Gr/Sk/Or)'"}],
                 "mark": {"type": "text", "font": "Liberation Sans", "fontSize": 13, "color": "#1e1e1e"},
                 "encoding": {
                   "x": {"field": "source", "type": "nominal", "sort": null, "scale": {"paddingInner": 0, "paddingOuter": 0.1}, "axis": {"title": null, "grid": true}},
                   "xOffset": {"field": "slot", "type": "nominal", "scale": {"domain": ["a", "b", "c"], "paddingOuter": 0.48}},
                   "y": {"field": "mean", "type": "quantitative", "scale": {"domain": [-0.3, 10.4], "nice": false, "zero": false}, "axis": {"title": null, "labels": false, "grid": true, "values": [0,0.5,1,1.5,2,2.5,3,3.5,4,4.5,5,5.5,6,6.5,7,7.5,8,8.5,9,9.5,10]}},
                   "text": {"field": "mean", "type": "nominal"}
                 }},
                {"transform": [{"filter": "datum.slot === 'c'"}],
                 "mark": {"type": "point", "filled": true, "opacity": 1, "shape": "M-0.9,-0.5L0.9,-0.5Q1,-0.5 1,-0.4L1,0.4Q1,0.5 0.9,0.5L-0.9,0.5Q-1,0.5 -1,0.4L-1,-0.4Q-1,-0.5 -0.9,-0.5Z", "size": 1156, "stroke": "#7a7a5a", "strokeWidth": 1},
                 "encoding": {
                   "x": {"field": "source", "type": "nominal", "sort": null, "scale": {"paddingInner": 0, "paddingOuter": 0.1}, "axis": {"title": null, "grid": true}},
                   "xOffset": {"field": "slot", "type": "nominal", "scale": {"domain": ["a", "b", "c"], "paddingOuter": 0.48}},
                   "y": {"field": "mean", "type": "quantitative", "scale": {"domain": [-0.3, 10.4], "nice": false, "zero": false}, "axis": {"title": null, "labels": false, "grid": true, "values": [0,0.5,1,1.5,2,2.5,3,3.5,4,4.5,5,5.5,6,6.5,7,7.5,8,8.5,9,9.5,10]}},
                   "fill": {"field": "group", "type": "nominal", "scale": {"domain": ["Innovation", "Memory"], "range": ["#F4C11F", "#44A067"]}, "title": null}
                 }},
                {"transform": [{"filter": "datum.slot === 'c'"}],
                 "mark": {"type": "text", "font": "Liberation Sans", "fontSize": 13, "color": "#1e1e1e"},
                 "encoding": {
                   "x": {"field": "source", "type": "nominal", "sort": null, "scale": {"paddingInner": 0, "paddingOuter": 0.1}, "axis": {"title": null, "grid": true}},
                   "xOffset": {"field": "slot", "type": "nominal", "scale": {"domain": ["a", "b", "c"], "paddingOuter": 0.48}},
                   "y": {"field": "mean", "type": "quantitative", "scale": {"domain": [-0.3, 10.4], "nice": false, "zero": false}, "axis": {"title": null, "labels": false, "grid": true, "values": [0,0.5,1,1.5,2,2.5,3,3.5,4,4.5,5,5.5,6,6.5,7,7.5,8,8.5,9,9.5,10]}},
                   "text": {"field": "mean", "type": "nominal"}
                 }}
              ]
            }
          ]
        }
      ]
    }
  ],
  "spacing": 2,
  "resolve": {"scale": {"x": "independent", "xOffset": "independent", "y": "independent"}},
  "config": {
    "view": {"stroke": null},
    "axis": {"domain": false, "ticks": false, "gridColor": "#ebebeb", "gridWidth": 1.2, "labelColor": "#111"},
    "axisX": {"labelAngle": -22, "labelAlign": "center", "labelBaseline": "middle", "labelPadding": 14, "labelFont": "DejaVu Serif", "labelFontWeight": "bold", "labelFontSize": 15, "labelOverlap": false, "labelBound": false, "labelFlush": false, "gridWidth": 1.5},
    "title": {"font": "DejaVu Serif", "fontWeight": "bold", "fontSize": 20, "color": "#111"},
    "legend": {"orient": "none", "legendX": 538, "legendY": 442, "direction": "horizontal", "symbolType": "square", "symbolSize": 220, "symbolStrokeColor": "#8a8a70", "symbolStrokeWidth": 1, "labelFont": "Liberation Sans", "labelFontWeight": "bold", "labelFontSize": 13.5, "labelColor": "#222", "columnPadding": 8, "labelOffset": 6}
  }
}
